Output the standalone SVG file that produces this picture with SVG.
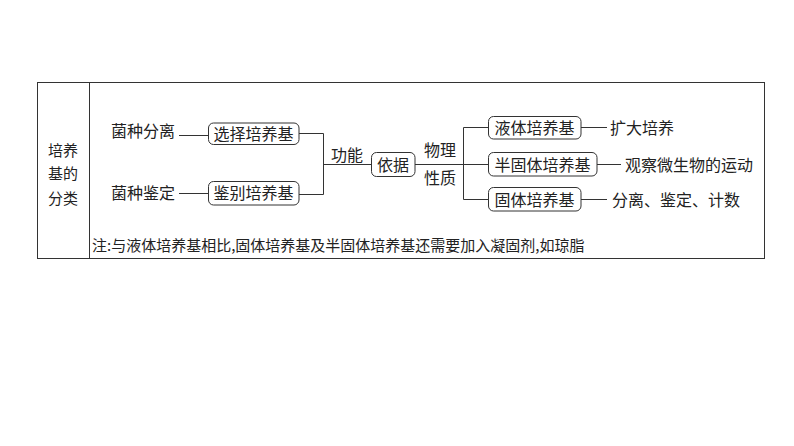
<svg xmlns="http://www.w3.org/2000/svg" width="794" height="446" viewBox="0 0 794 446">
<style>
text{font-family:"Noto Sans CJK SC","Noto Sans",sans-serif;fill:#222;}
.t{font-size:16px;}
.s{font-size:15px;}
.box{fill:#fff;stroke:#333;stroke-width:1;}
.ln{fill:none;stroke:#333;stroke-width:1;}
</style>
<rect x="0" y="0" width="794" height="446" fill="#fff"/>
<g id="frame">
<rect x="37.5" y="82.5" width="727" height="176" fill="none" stroke="#333" stroke-width="1"/>
<line x1="89.5" y1="82.5" x2="89.5" y2="258.5" stroke="#333" stroke-width="1"/>
<text class="s" x="63" y="156" text-anchor="middle">培养</text>
<text class="s" x="63" y="179" text-anchor="middle">基的</text>
<text class="s" x="63" y="204" text-anchor="middle">分类</text>
</g>
<g id="connectors">
<path class="ln" d="M179 135.5H208M179 193.5H208"/>
<path class="ln" d="M299 133.5H323.5V194.5H299M323.5 164.5H371"/>
<path class="ln" d="M415 164.5H488M463.5 127.5V199.5M463.5 127.5H488M463.5 199.5H488"/>
<path class="ln" d="M581 127.5H607M597 164.5H621M581 199.5H607"/>
</g>
<g id="n-jzfl"><text class="t" x="111" y="137">菌种分离</text></g>
<g id="n-jzjd"><text class="t" x="111" y="199">菌种鉴定</text></g>
<g id="n-xzpyj"><rect class="box" x="208.5" y="123" width="90.5" height="21.5" rx="5"/><text class="t" x="253.5" y="139.5" text-anchor="middle">选择培养基</text></g>
<g id="n-jbpyj"><rect class="box" x="208.5" y="181.5" width="90.5" height="23.5" rx="5"/><text class="t" x="253.5" y="199" text-anchor="middle">鉴别培养基</text></g>
<g id="n-gn"><text class="t" x="331" y="161">功能</text></g>
<g id="n-yj"><rect class="box" x="371.5" y="152.5" width="43.5" height="24" rx="5"/><text class="t" x="393" y="170.5" text-anchor="middle">依据</text></g>
<g id="n-wl"><text class="t" x="424" y="156">物理</text></g>
<g id="n-xz"><text class="t" x="424" y="184">性质</text></g>
<g id="n-ytpyj"><rect class="box" x="488.5" y="116.5" width="92.5" height="22.5" rx="5"/><text class="t" x="534.5" y="133.5" text-anchor="middle">液体培养基</text></g>
<g id="n-bgtpyj"><rect class="box" x="488.5" y="152.5" width="108.5" height="23.5" rx="5"/><text class="t" x="542.5" y="170.5" text-anchor="middle">半固体培养基</text></g>
<g id="n-gtpyj"><rect class="box" x="488.5" y="187.5" width="92.5" height="23.5" rx="5"/><text class="t" x="534.5" y="205.5" text-anchor="middle">固体培养基</text></g>
<g id="n-kdpy"><text class="t" x="610" y="133.5">扩大培养</text></g>
<g id="n-gc"><text class="t" x="625" y="170.5">观察微生物的运动</text></g>
<g id="n-fl"><text class="t" x="612" y="205.5">分离、鉴定、计数</text></g>
<g id="note"><text class="s" x="92" y="251">注:与液体培养基相比,固体培养基及半固体培养基还需要加入凝固剂,如琼脂</text></g>
</svg>
